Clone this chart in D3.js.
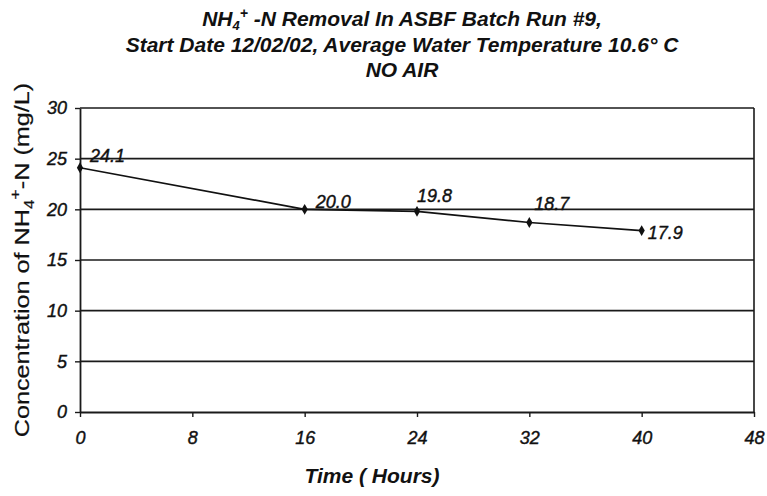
<!DOCTYPE html>
<html><head><meta charset="utf-8">
<script src="https://cdn.jsdelivr.net/npm/d3@7"></script>
<style>body{margin:0;background:#fff}svg{display:block}text{font-family:"Liberation Sans",Arial,sans-serif;fill:#111}</style>
</head><body><svg id="c" width="767" height="496"></svg>
<script>
const hours = [0, 16, 24, 32, 40];
const concentration = [24.1, 20.0, 19.8, 18.7, 17.9];
const pointLabels = ["24.1", "20.0", "19.8", "18.7", "17.9"];
const xTicks = [0, 8, 16, 24, 32, 40, 48];
const yTicks = [0, 5, 10, 15, 20, 25, 30];

// label placement (dx, dy) relative to each point
const labelPlacement = [[10, -6], [11, -1], [0, -9], [5, -13], [6, 8]];

const svg = d3.select("#c");
const L = 80, R = 754, T = 108, B = 412;
const x = d3.scaleLinear().domain([0, 48]).range([L, R]);
const y = d3.scaleLinear().domain([0, 30]).range([B, T]);

// gridlines
svg.append("g").selectAll("line").data(yTicks.filter(d => d > 0)).join("line")
  .attr("x1", L).attr("x2", R).attr("y1", d => y(d)).attr("y2", d => y(d))
  .attr("stroke", "#1a1a1a").attr("stroke-width", 1.6);
// right border
svg.append("line").attr("x1", R).attr("x2", R).attr("y1", T).attr("y2", B).attr("stroke", "#1a1a1a").attr("stroke-width", 1.6);

const xAxis = svg.append("g").attr("transform", `translate(0,${B})`)
  .call(d3.axisBottom(x).tickValues(xTicks).tickSize(5).tickPadding(14).tickSizeOuter(0));
const yAxis = svg.append("g").attr("transform", `translate(${L},0)`)
  .call(d3.axisLeft(y).tickValues(yTicks).tickSize(5).tickPadding(8).tickSizeOuter(0));
[xAxis, yAxis].forEach(a => {
  a.select(".domain").attr("stroke", "#1a1a1a").attr("stroke-width", 1.8);
  a.selectAll(".tick line").attr("stroke", "#1a1a1a").attr("stroke-width", 1.4);
  a.selectAll("text").attr("font-size", 18).attr("font-style", "italic")
    .attr("font-family", "'Liberation Sans', Arial, sans-serif").attr("fill", "#111")
    .attr("stroke", "#111").attr("stroke-width", 0.4);
});

// line
svg.append("path").datum(hours.map((h, i) => [h, concentration[i]]))
  .attr("d", d3.line().x(d => x(d[0])).y(d => y(d[1])))
  .attr("fill", "none").attr("stroke", "#111").attr("stroke-width", 1.7);

// markers
svg.append("g").selectAll("path").data(hours).join("path")
  .attr("transform", (h, i) => `translate(${x(h)},${y(concentration[i])})`)
  .attr("d", d3.symbol().type(d3.symbolDiamond).size(34))
  .attr("fill", "#111");

// point labels
svg.append("g").selectAll("text").data(hours).join("text")
  .attr("x", (h, i) => x(h) + labelPlacement[i][0])
  .attr("y", (h, i) => y(concentration[i]) + labelPlacement[i][1])
  .attr("font-size", 18).attr("font-style", "italic")
  .attr("stroke", "#111").attr("stroke-width", 0.4)
  .text((h, i) => pointLabels[i]);

// title
const title = svg.append("text").attr("text-anchor", "middle").attr("font-size", 21)
  .attr("font-weight", "bold").attr("font-style", "italic");
const t1 = title.append("tspan").attr("x", 402).attr("y", 26);
t1.append("tspan").text("NH");
t1.append("tspan").attr("font-size", 13).attr("dy", 4).text("4");
t1.append("tspan").attr("font-size", 14).attr("dy", -12).text("+");
t1.append("tspan").attr("dy", 8).text(" -N Removal In ASBF Batch Run #9,");
title.append("tspan").attr("x", 402).attr("y", 52).text("Start Date 12/02/02, Average Water Temperature 10.6\u00B0 C");
title.append("tspan").attr("x", 402).attr("y", 77).text("NO AIR");

// x axis title
svg.append("text").attr("x", 372).attr("y", 483).attr("text-anchor", "middle")
  .attr("font-size", 21).attr("font-weight", "bold").attr("font-style", "italic").text("Time ( Hours)");

// y axis title (stretched along its length like the reference)
const yt = svg.append("text").attr("transform", "translate(29,260) rotate(-90) scale(1.2,1)")
  .attr("text-anchor", "middle").attr("font-size", 21)
  .attr("stroke", "#111").attr("stroke-width", 0.2);
yt.append("tspan").text("Concentration of NH");
yt.append("tspan").attr("font-size", 14).attr("dy", 5).text("4");
yt.append("tspan").attr("font-size", 15).attr("dy", -14).text("+");
yt.append("tspan").attr("dy", 9).text("-N (mg/L)");
</script></body></html>
